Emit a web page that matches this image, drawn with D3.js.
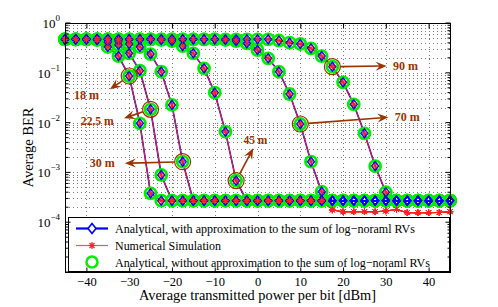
<!DOCTYPE html>
<html>
<head>
<meta charset="utf-8">
<script src="https://cdn.jsdelivr.net/npm/d3@7"></script>
<style>
  body { margin: 0; background: #fff; }
  svg text { font-family: "Liberation Serif", "Times New Roman", Times, "DejaVu Serif", "Noto Serif", serif; }
</style>
</head>
<body>
<svg id="chart" width="498" height="307"></svg>
<script>
// transmitted power per bit [dBm]
const power = [-45, -42.5, -40, -37.5, -35, -32.5, -30, -27.5, -25, -22.5,
  -20, -17.5, -15, -12.5, -10, -7.5, -5, -2.5, 0, 2.5,
  5, 7.5, 10, 12.5, 15, 17.5, 20, 22.5, 25, 27.5,
  30, 32.5, 35, 37.5, 40, 42.5, 45];

// analytical BER, one array per distance
const ber18 = [0.47, 0.47, 0.47, 0.47, 0.33, 0.217, 0.0862, 0.00968, 3.8e-4, 2.7e-4,
  2.7e-4, 2.7e-4, 2.7e-4, 2.7e-4, 2.7e-4, 2.7e-4, 2.7e-4, 2.7e-4, 2.7e-4, 2.7e-4,
  2.7e-4, 2.7e-4, 2.7e-4, 2.7e-4, 2.7e-4, 2.7e-4, 2.7e-4, 2.7e-4, 2.7e-4, 2.7e-4,
  2.7e-4, 2.7e-4, 2.7e-4, 2.7e-4, 2.7e-4, 2.7e-4, 2.7e-4];
const ber22 = [0.47, 0.47, 0.47, 0.456, 0.415, 0.362, 0.246, 0.110, 0.0185, 8.87e-4,
  2.7e-4, 2.7e-4, 2.7e-4, 2.7e-4, 2.7e-4, 2.7e-4, 2.7e-4, 2.7e-4, 2.7e-4, 2.7e-4,
  2.7e-4, 2.7e-4, 2.7e-4, 2.7e-4, 2.7e-4, 2.7e-4, 2.7e-4, 2.7e-4, 2.7e-4, 2.7e-4,
  2.7e-4, 2.7e-4, 2.7e-4, 2.7e-4, 2.7e-4, 2.7e-4, 2.7e-4];
const ber30 = [0.47, 0.47, 0.47, 0.47, 0.47, 0.435, 0.379, 0.330, 0.238, 0.105,
  0.0226, 0.00164, 2.7e-4, 2.7e-4, 2.7e-4, 2.7e-4, 2.7e-4, 2.7e-4, 2.7e-4, 2.7e-4,
  2.7e-4, 2.7e-4, 2.7e-4, 2.7e-4, 2.7e-4, 2.7e-4, 2.7e-4, 2.7e-4, 2.7e-4, 2.7e-4,
  2.7e-4, 2.7e-4, 2.7e-4, 2.7e-4, 2.7e-4, 2.7e-4, 2.7e-4];
const ber45 = [0.47, 0.47, 0.47, 0.47, 0.47, 0.47, 0.47, 0.47, 0.47, 0.456,
  0.435, 0.345, 0.246, 0.123, 0.0399, 0.00657, 6.81e-4, 2.7e-4, 2.7e-4, 2.7e-4,
  2.7e-4, 2.7e-4, 2.7e-4, 2.7e-4, 2.7e-4, 2.7e-4, 2.7e-4, 2.7e-4, 2.7e-4, 2.7e-4,
  2.7e-4, 2.7e-4, 2.7e-4, 2.7e-4, 2.7e-4, 2.7e-4, 2.7e-4];
const ber70 = [0.47, 0.47, 0.47, 0.47, 0.47, 0.47, 0.47, 0.47, 0.47, 0.47,
  0.47, 0.47, 0.47, 0.47, 0.47, 0.456, 0.435, 0.391, 0.287, 0.1955,
  0.105, 0.0375, 0.00937, 0.00164, 4.1e-4, 2.7e-4, 2.7e-4, 2.7e-4, 2.7e-4, 2.7e-4,
  2.7e-4, 2.7e-4, 2.7e-4, 2.7e-4, 2.7e-4, 2.7e-4, 2.7e-4];
const ber90 = [0.47, 0.47, 0.47, 0.47, 0.47, 0.47, 0.47, 0.47, 0.47, 0.47,
  0.47, 0.47, 0.47, 0.47, 0.47, 0.47, 0.47, 0.47, 0.47, 0.47,
  0.445, 0.402, 0.379, 0.310, 0.217, 0.1326, 0.0645, 0.0233, 0.0061, 0.00134,
  3.99e-4, 2.7e-4, 2.7e-4, 2.7e-4, 2.7e-4, 2.7e-4, 2.7e-4];

// numerical simulation drops below the analytical floor from 17.5 dBm on
const simTail = [1.76e-4, 1.62e-4, 1.62e-4, 1.62e-4, 1.62e-4, 1.68e-4,
  1.80e-4, 1.55e-4, 1.55e-4, 1.55e-4, 1.57e-4, 1.62e-4];

const xTicks = [-40, -30, -20, -10, 0, 10, 20, 30, 40];
const yTicks = [1, 1e-1, 1e-2, 1e-3, 1e-4, 1e-5];
// the 1e-5 tick has no label in the figure
const yTickExp = ['0', '\u22121', '\u22122', '\u22123', '\u22124', ''];

const legendLabels = [
  'Analytical, with approximation to the sum of log\u2212noraml RVs',
  'Numerical Simulation',
  'Analytical, without approximation to the sum of log\u2212noraml RVs'
];
const legendWidths = [300, 106, 315];

// circled point on each curve, where the arrow tip and the label sit
const notes = [
  {label: '18 m',   w: 25, curve: 0, at: -30,  tip: [-34.5, 0.0466], text: [-42.9, 0.0298]},
  {label: '22.5 m', w: 33, curve: 1, at: -25,  tip: [-31.2, 0.0122], text: [-41.3, 0.00895]},
  {label: '30 m',   w: 25, curve: 2, at: -17.5, tip: [-31.0, 0.00152], text: [-39.2, 0.00127]},
  {label: '45 m',   w: 24, curve: 3, at: -5,   tip: [-1.0, 0.00305], text: [-3.3, 0.00372]},
  {label: '70 m',   w: 25, curve: 4, at: 10,   tip: [30.6, 0.0128], text: [32.1, 0.0109]},
  {label: '90 m',   w: 25, curve: 5, at: 17.5, tip: [30.2, 0.137],  text: [31.7, 0.1138]}
];

const analytic = [ber18, ber22, ber30, ber45, ber70, ber90];
const simulated = [
  ber18.slice(0, 25).concat(simTail),
  ber22.slice(0, 25).concat(simTail),
  ber30.slice(0, 25).concat(simTail),
  ber45.slice(0, 25).concat(simTail),
  ber70.slice(0, 25).concat(simTail),
  ber90.slice(0, 31).concat(simTail.slice(6))
];

const svg = d3.select('#chart');
const pl = 65, pr = 450, pt = 23, pb = 272;

const x = d3.scaleLinear().domain([-45, 45]).range([pl, pr]);
const y = d3.scaleLog().domain([1e-5, 1]).range([pb, pt]);

const brown = '#993300';

// grid
const minor = [];
for (let e = -5; e < 0; e++) {
  for (let m = 1; m < 10; m++) minor.push(m * Math.pow(10, e));
}
const grid = svg.append('g').attr('stroke', '#7a7a7a').attr('stroke-width', 1)
  .attr('stroke-dasharray', '1,3');
grid.selectAll('.hg').data(minor.filter(v => v > 1e-5)).enter().append('line')
  .attr('x1', pl).attr('x2', pr)
  .attr('y1', d => Math.round(y(d)) + 0.5).attr('y2', d => Math.round(y(d)) + 0.5);
grid.selectAll('.vg').data(xTicks).enter().append('line')
  .attr('y1', pt).attr('y2', pb)
  .attr('x1', d => Math.round(x(d)) + 0.5).attr('x2', d => Math.round(x(d)) + 0.5);

// curves
const line = d3.line().x((d, i) => x(power[i])).y(d => y(d));
const plot = svg.append('g');

analytic.forEach(c => {
  plot.append('path').attr('d', line(c)).attr('fill', 'none')
    .attr('stroke', '#0000ff').attr('stroke-width', 1.6);
});
simulated.forEach(c => {
  plot.append('path').attr('d', line(c)).attr('fill', 'none')
    .attr('stroke', '#ff2020').attr('stroke-width', 1);
});

function diamond(cx, cy, w, h) {
  return `M${cx},${cy - h}L${cx + w},${cy}L${cx},${cy + h}L${cx - w},${cy}Z`;
}
function star(cx, cy, r) {
  const d = r * 0.72;
  return `M${cx - r},${cy}H${cx + r}M${cx},${cy - r}V${cy + r}` +
    `M${cx - d},${cy - d}L${cx + d},${cy + d}M${cx - d},${cy + d}L${cx + d},${cy - d}`;
}

// green circles (analytical without approximation, same values)
analytic.forEach(c => {
  plot.append('g').selectAll('circle').data(c).enter().append('circle')
    .attr('cx', (d, i) => x(power[i])).attr('cy', d => y(d)).attr('r', 5.5)
    .attr('fill', 'none').attr('stroke', '#00ee00').attr('stroke-width', 2.8);
});
analytic.forEach(c => {
  plot.append('g').selectAll('path').data(c).enter().append('path')
    .attr('d', (d, i) => diamond(x(power[i]), y(d), 3.4, 4.4))
    .attr('fill', 'none').attr('stroke', '#0000ff').attr('stroke-width', 1.5);
});
simulated.forEach(c => {
  plot.append('g').selectAll('path').data(c).enter().append('path')
    .attr('d', (d, i) => star(x(power[i]), y(d), 3.2))
    .attr('fill', 'none').attr('stroke', '#ff2020').attr('stroke-width', 1);
});

// annotations
const ann = svg.append('g');
notes.forEach(n => {
  const i = power.indexOf(n.at);
  const cx = x(n.at), cy = y(analytic[n.curve][i]);
  const r = 8;
  const tx = x(n.tip[0]), ty = y(n.tip[1]);
  const len = Math.hypot(tx - cx, ty - cy);
  const ux = (tx - cx) / len, uy = (ty - cy) / len;
  const nx = -uy, ny = ux;
  ann.append('circle').attr('cx', cx).attr('cy', cy).attr('r', r)
    .attr('fill', 'none').attr('stroke', brown).attr('stroke-width', 1.2);
  ann.append('line')
    .attr('x1', cx + ux * r).attr('y1', cy + uy * r)
    .attr('x2', tx - ux * 6).attr('y2', ty - uy * 6)
    .attr('stroke', brown).attr('stroke-width', 1.6);
  const hl = 11, hw = 4.5;
  ann.append('path')
    .attr('d', `M${tx},${ty}L${tx - ux * hl + nx * hw},${ty - uy * hl + ny * hw}` +
      `L${tx - ux * 7},${ty - uy * 7}L${tx - ux * hl - nx * hw},${ty - uy * hl - ny * hw}Z`)
    .attr('fill', brown);
  ann.append('text').attr('x', x(n.text[0])).attr('y', y(n.text[1]))
    .attr('fill', brown).attr('font-weight', 'bold').attr('font-size', 12.5)
    .attr('textLength', n.w).attr('lengthAdjust', 'spacingAndGlyphs')
    .text(n.label);
});

// legend
const lg = svg.append('g');
lg.append('rect').attr('x', 68.5).attr('y', 217.5).attr('width', 381).attr('height', 54)
  .attr('fill', '#fff').attr('stroke', '#000').attr('stroke-width', 1);
const rowY = [228.5, 245.5, 262];
lg.append('line').attr('x1', 76).attr('x2', 108).attr('y1', rowY[0]).attr('y2', rowY[0])
  .attr('stroke', '#0000ff').attr('stroke-width', 2.2);
lg.append('path').attr('d', diamond(92, rowY[0], 4, 5))
  .attr('fill', '#fff').attr('stroke', '#0000ff').attr('stroke-width', 1.6);
lg.append('line').attr('x1', 76).attr('x2', 108).attr('y1', rowY[1]).attr('y2', rowY[1])
  .attr('stroke', '#ff5555').attr('stroke-width', 1.2);
lg.append('path').attr('d', star(92, rowY[1], 3.5))
  .attr('stroke', '#ff2020').attr('stroke-width', 1.2);
lg.append('circle').attr('cx', 92).attr('cy', rowY[2]).attr('r', 5.5)
  .attr('fill', 'none').attr('stroke', '#00ee00').attr('stroke-width', 2.5);
legendLabels.forEach((t, i) => {
  lg.append('text').attr('x', 115).attr('y', rowY[i] + 4.5)
    .attr('font-size', 13).attr('fill', '#000')
    .attr('textLength', legendWidths[i]).attr('lengthAdjust', 'spacingAndGlyphs')
    .text(t);
});

// axes
const axes = svg.append('g');
axes.append('rect').attr('x', pl + 0.5).attr('y', pt + 0.5)
  .attr('width', pr - pl).attr('height', pb - pt)
  .attr('fill', 'none').attr('stroke', '#000').attr('stroke-width', 1);

const xb = axes.append('g').attr('transform', `translate(0,${pb + 0.5})`)
  .call(d3.axisBottom(x).tickValues(xTicks).tickSizeInner(-5).tickSizeOuter(0).tickPadding(5));
xb.select('.domain').remove();
xb.selectAll('text').attr('font-size', 12.5);

axes.append('g').attr('transform', `translate(0,${pt + 0.5})`)
  .call(d3.axisTop(x).tickValues(xTicks).tickSizeInner(-5).tickSizeOuter(0).tickFormat(''))
  .select('.domain').remove();

const minorY = minor.filter(v => yTicks.indexOf(v) < 0 && v > 1e-5);
[[pl + 0.5, 1], [pr + 0.5, -1]].forEach(([px, dir]) => {
  axes.append('g').selectAll('line').data(yTicks).enter().append('line')
    .attr('x1', px).attr('x2', px + dir * 5)
    .attr('y1', d => y(d)).attr('y2', d => y(d)).attr('stroke', '#000');
  axes.append('g').selectAll('line').data(minorY).enter().append('line')
    .attr('x1', px).attr('x2', px + dir * 3)
    .attr('y1', d => y(d)).attr('y2', d => y(d)).attr('stroke', '#000');
});

const yl = axes.append('g').selectAll('text').data(yTicks.filter((d, i) => yTickExp[i] !== ''))
  .enter().append('text')
  .attr('x', 60).attr('y', d => y(d) + 5).attr('text-anchor', 'end')
  .attr('font-size', 13).attr('fill', '#000');
yl.append('tspan').text('10');
yl.append('tspan').attr('dy', -7).attr('font-size', 9).text((d, i) => yTickExp[i]);

svg.append('text').attr('transform', `translate(33,${(pt + pb) / 2}) rotate(-90)`)
  .attr('text-anchor', 'middle').attr('font-size', 14)
  .attr('textLength', 80).attr('lengthAdjust', 'spacingAndGlyphs')
  .text('Average BER');
svg.append('text').attr('x', (pl + pr) / 2).attr('y', 300)
  .attr('text-anchor', 'middle').attr('font-size', 14)
  .attr('textLength', 237).attr('lengthAdjust', 'spacingAndGlyphs')
  .text('Average transmitted power per bit [dBm]');
</script>
</body>
</html>
